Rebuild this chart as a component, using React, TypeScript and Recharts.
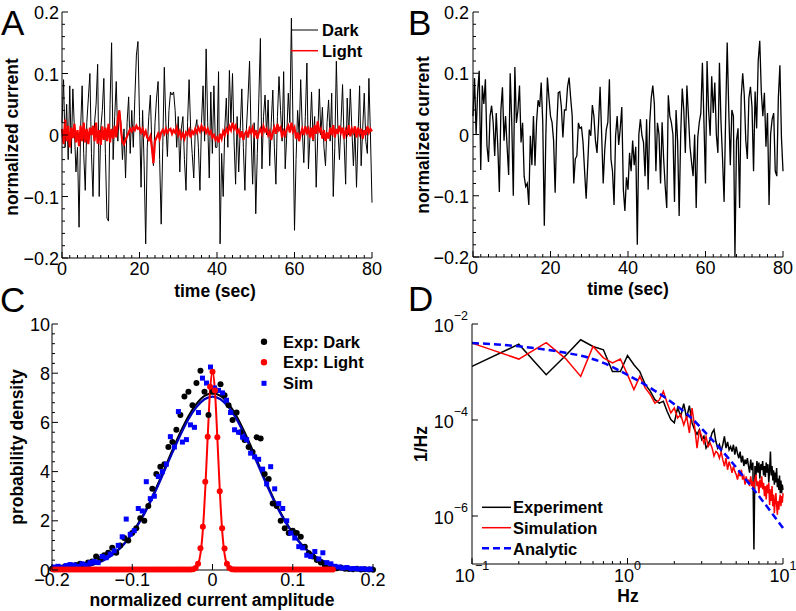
import React from 'react';
import { LineChart, Line, XAxis, YAxis, ComposedChart, Scatter, Legend } from 'recharts';

const FONT = '"Liberation Sans", Arial, Helvetica, sans-serif';
const RED = '#ff0000';
const BLUE = '#0000ff';
const FIT_BLUE = '#0000c0';

// ---------- Panels A / B : time traces ----------
const DT = 0.4; // seconds between samples
const DARK_A = [
  0.02, 0.09, -0.02, 0.05, -0.04, 0.08, -0.03, 0.075, 0.01, -0.06,
  -0.02, -0.15, 0.01, 0.08, -0.03, -0.09, 0.02, 0.06, 0.1, -0.03,
  -0.1, 0.02, 0.05, 0.115, -0.1, 0.01, 0.04, 0.092, -0.03, -0.135,
  -0.14, 0.05, 0.15, -0.04, 0.03, 0.087, -0.01, 0.04, 0.02, -0.04,
  0.01, -0.07, 0.02, 0.062, -0.03, 0.04, -0.02, 0.06, 0.13, 0.152,
  0.03, -0.085, 0.04, -0.05, -0.177, -0.02, 0.03, 0.065, -0.02, -0.05,
  0.02, 0.06, 0.087, -0.04, -0.145, -0.02, 0.11, 0.02, -0.035, 0.04,
  0.07, 0.065, 0.07, 0.04, -0.02, 0.03, -0.06, 0.01, 0.03, -0.04,
  -0.09, 0.02, 0.09, 0.01, -0.03, -0.07, 0.01, 0.025, -0.02, -0.09,
  0.02, 0.08, -0.01, 0.14, 0.02, -0.07, 0.07, -0.03, 0.08, -0.02,
  -0.02, 0.103, -0.177, -0.03, -0.1, 0.01, 0.06, -0.02, 0.105, 0.02,
  0.1, -0.01, -0.08, 0.03, -0.06, 0.01, 0.075, -0.02, -0.09, 0.01,
  0.06, 0.12, 0.0, -0.08, 0.02, -0.128, -0.03, 0.06, 0.157, -0.055,
  0.03, 0.065, 0.0, 0.057, -0.05, 0.02, 0.073, -0.02, -0.08, 0.03,
  0.095, 0.04, -0.01, 0.103, -0.055, 0.0, 0.068, 0.02, 0.19, 0.02,
  -0.155, -0.04, 0.04, 0.0, 0.09, 0.01, -0.045, 0.03, 0.117, -0.055,
  0.0, 0.07, -0.01, 0.03, -0.085, 0.0, 0.075, 0.0, 0.045, -0.02,
  -0.05, 0.02, 0.057, -0.01, 0.068, -0.1, -0.02, 0.12, 0.01, -0.04,
  0.02, 0.082, -0.01, -0.08, 0.06, 0.0, 0.075, 0.01, -0.05, 0.01,
  -0.085, 0.0, 0.08, -0.05, 0.01, 0.068, -0.01, -0.03, 0.092, 0.0,
  -0.11,
];
const LIGHT_A = [
  0.01, -0.015, 0.025, -0.01, 0.015, -0.02, 0.012, -0.005, 0.018, -0.012,
  0.008, -0.018, 0.015, -0.01, 0.02, -0.012, 0.01, -0.015, 0.012, 0.0,
  0.015, -0.01, 0.02, -0.014, 0.008, -0.016, 0.014, -0.008, 0.012, -0.01,
  0.018, -0.012, 0.01, -0.006, 0.015, -0.004, 0.025, 0.04, 0.01, -0.012,
  -0.015, -0.008, -0.002, 0.004, 0.01, 0.006, 0.012, 0.008, 0.015, 0.01,
  0.012, 0.004, 0.01, 0.0, 0.006, -0.004, -0.008, -0.002, -0.02, -0.046,
  -0.01, -0.004, 0.002, -0.006, 0.004, 0.008, 0.002, 0.01, 0.004, 0.008,
  0.01, 0.002, 0.008, 0.004, 0.012, 0.0, 0.006, -0.004, 0.002, -0.006,
  0.004, 0.0, 0.008, -0.004, 0.006, 0.002, 0.01, 0.004, 0.012, 0.006,
  0.015, 0.008, 0.012, 0.004, 0.01, 0.002, 0.006, -0.004, 0.0, -0.008,
  -0.004, -0.012, 0.002, -0.006, 0.006, 0.0, 0.01, 0.004, 0.014, 0.008,
  0.02, 0.01, 0.015, 0.004, 0.008, -0.004, 0.006, -0.008, 0.002, 0.006,
  -0.004, 0.01, 0.004, 0.012, 0.0, 0.008, -0.006, 0.004, 0.01, 0.002,
  0.014, 0.006, 0.01, 0.0, 0.006, -0.008, 0.004, 0.012, 0.002, 0.018,
  0.008, 0.012, -0.004, 0.006, 0.0, 0.01, 0.015, 0.004, 0.02, 0.006,
  0.012, -0.006, 0.004, -0.01, 0.002, 0.01, 0.0, 0.014, 0.004, 0.01,
  -0.004, 0.012, -0.008, 0.016, 0.002, 0.022, 0.006, 0.01, -0.006, 0.008,
  -0.01, 0.004, -0.006, 0.012, 0.0, 0.016, -0.004, 0.01, 0.002, 0.015,
  0.004, 0.012, -0.006, 0.008, 0.002, 0.016, -0.002, 0.01, 0.004, 0.014,
  -0.004, 0.012, 0.002, 0.01, -0.006, 0.008, 0.0, 0.014, 0.004, 0.01,
  0.006,
];
const TRACE_B = [
  0.03, 0.092, 0.0, 0.07, 0.104, -0.058, 0.08, 0.05, 0.09, -0.018,
  -0.045, 0.03, 0.047, 0.02, -0.035, 0.035, -0.02, -0.094, 0.04, 0.077,
  -0.01, 0.03, -0.02, -0.066, 0.1, 0.02, -0.1, 0.11, 0.019, 0.04,
  0.08, -0.013, 0.019, -0.068, -0.085, -0.08, -0.115, -0.002, -0.05, 0.03,
  -0.051, 0.02, 0.056, 0.045, 0.085, 0.02, -0.149, -0.002, 0.093, 0.06,
  0.03, 0.02, -0.01, -0.095, 0.01, 0.068, 0.07, 0.045, -0.005, 0.04,
  0.04, 0.078, 0.093, 0.06, 0.03, -0.08, -0.04, -0.035, 0.019, 0.01,
  0.012, -0.013, -0.06, -0.105, -0.05, 0.008, -0.002, 0.048, 0.03, -0.01,
  -0.03, 0.018, 0.078, 0.0, -0.08, -0.025, 0.008, 0.02, 0.09, -0.04,
  -0.06, -0.115, -0.002, 0.03, -0.017, 0.01, 0.045, -0.09, -0.125, -0.07,
  -0.09, -0.03, -0.06, -0.01, -0.05, -0.02, -0.18, 0.0, 0.025, -0.002,
  -0.013, -0.068, 0.025, -0.09, 0.019, 0.06, 0.08, 0.05, -0.06, 0.019,
  0.0, -0.08, 0.02, -0.04, -0.085, -0.12, 0.064, 0.03, 0.019, 0.0,
  -0.11, 0.04, -0.01, -0.133, 0.0, 0.075, 0.04, -0.03, 0.08, 0.03,
  -0.02, -0.045, -0.068, 0.0, -0.12, -0.005, 0.02, 0.035, 0.117, 0.02,
  -0.08, 0.12, 0.04, -0.002, 0.095, 0.035, 0.085, 0.0, -0.03, 0.117,
  0.02, -0.04, -0.11, 0.03, 0.15, 0.04, -0.05, 0.04, 0.03, -0.2,
  -0.01, 0.01, -0.12, 0.06, 0.1, 0.065, -0.01, -0.04, 0.06, 0.078,
  0.045, -0.06, 0.07, 0.01, 0.12, 0.153, 0.07, 0.03, 0.068, -0.02,
  0.035, -0.115, 0.0, 0.025, 0.035, -0.06, -0.068, 0.06, 0.113, -0.005,
  -0.06,
];
const TIME_MAJOR = [0, 20, 40, 60, 80];
const CURRENT_MAJOR = [-0.2, -0.1, 0, 0.1, 0.2];

// ---------- Panel C : amplitude histograms ----------
const BIN_WIDTH = 0.005;
const DARK_HIST_START = -0.2;
const DARK_HIST = [
  0.05, 0.08, 0.1, 0.12, 0.1, 0.15, 0.2, 0.25, 0.2, 0.3,
  0.35, 0.55, 0.45, 0.6, 0.7, 0.9, 0.7, 1.0, 1.3, 1.2,
  1.5, 1.7, 2.1, 2.0, 2.6, 3.3, 3.9, 4.2, 4.3, 5.0,
  5.2, 5.7, 6.3, 7.05, 7.25, 6.7, 7.6, 8.1, 7.25, 6.3,
  7.25,
  7.3, 7.55, 7.1, 6.7, 6.1, 6.4, 5.6, 5.28, 5.0, 4.8,
  5.4, 5.35, 3.9, 3.7, 2.7, 2.6, 2.0, 1.7, 1.5, 1.6,
  1.5, 1.35, 0.95, 0.68, 0.55, 0.41, 0.3, 0.2, 0.07, 0.12,
  0.07, 0.1, 0.05, 0.04, 0.03, 0.05, 0.02, 0.03, 0.02, 0.01,
];
const SIM_HIST_START = -0.1975;
const SIM_HIST = [
  0.12, 0.15, 0.1, 0.18, 0.22, 0.2, 0.15, 0.25, 0.2, 0.3,
  0.35, 0.3, 0.55, 0.5, 0.65, 0.78, 1.0, 1.35, 2.07, 1.45,
  1.6, 2.5, 2.4, 3.59, 2.9, 3.0, 3.8, 4.0, 4.3, 5.42,
  5.0, 6.44, 5.2, 5.3, 5.9, 5.8, 6.4, 7.8, 7.6, 8.25,
  7.4, 7.3, 7.2, 6.9, 6.4, 5.7, 5.6, 5.4, 5.3, 4.75,
  4.6, 4.5, 4.1, 3.5, 4.2, 3.3, 2.7, 2.5, 2.0, 1.5,
  1.3, 0.95, 0.9, 0.6, 0.55, 0.75, 0.45, 0.7, 0.3, 0.25,
  0.15, 0.12, 0.08, 0.1, 0.05, 0.06, 0.04, 0.05, 0.03, 0.04,
];
const LIGHT_HIST_X = [
  -0.198, -0.195, -0.192, -0.189, -0.186, -0.183, -0.18, -0.177, -0.174, -0.171,
  -0.168, -0.165, -0.162, -0.159, -0.156, -0.153, -0.15, -0.147, -0.144, -0.141,
  -0.138, -0.135, -0.132, -0.129, -0.126, -0.123, -0.12, -0.117, -0.114, -0.111,
  -0.108, -0.105, -0.102, -0.099, -0.096, -0.093, -0.09, -0.087, -0.084, -0.081,
  -0.078, -0.075, -0.072, -0.069, -0.066, -0.063, -0.06, -0.057, -0.054, -0.051,
  -0.048, -0.045, -0.042, -0.039, -0.036, -0.033, -0.03, -0.027,
  -0.024, -0.021, -0.018, -0.015, -0.012, -0.009, -0.006, -0.003, 0,
  0.003, 0.006, 0.009, 0.012, 0.015, 0.018, 0.021, 0.024,
  0.027, 0.03, 0.033, 0.036, 0.039, 0.042, 0.045, 0.048, 0.051, 0.054,
  0.057, 0.06, 0.063, 0.066, 0.069, 0.072, 0.075, 0.078, 0.081, 0.084,
  0.087, 0.09, 0.093, 0.096, 0.099, 0.102, 0.105, 0.108, 0.111, 0.114,
  0.117, 0.12, 0.123, 0.126, 0.129, 0.132, 0.135, 0.138, 0.141, 0.144, 0.147, 0.15,
];
const LIGHT_HIST_Y = [
  0.02, 0.02, 0.02, 0.02, 0.02, 0.02, 0.02, 0.02, 0.02, 0.02,
  0.02, 0.02, 0.02, 0.02, 0.02, 0.02, 0.02, 0.02, 0.02, 0.02,
  0.02, 0.02, 0.02, 0.02, 0.02, 0.02, 0.02, 0.02, 0.02, 0.02,
  0.02, 0.02, 0.02, 0.02, 0.02, 0.02, 0.02, 0.02, 0.02, 0.02,
  0.02, 0.02, 0.02, 0.02, 0.02, 0.02, 0.02, 0.02, 0.02, 0.02,
  0.02, 0.02, 0.02, 0.02, 0.02, 0.02, 0.02, 0.02,
  0.03, 0.08, 0.25, 0.88, 1.76, 3.59, 5.42, 7.45, 8.06,
  7.3, 5.4, 3.2, 1.7, 0.87, 0.25, 0.08, 0.03,
  0.02, 0.02, 0.02, 0.02, 0.02, 0.02, 0.02, 0.02, 0.02, 0.02,
  0.02, 0.02, 0.02, 0.02, 0.02, 0.02, 0.02, 0.02, 0.02, 0.02,
  0.02, 0.02, 0.02, 0.02, 0.02, 0.02, 0.02, 0.02, 0.02, 0.02,
  0.02, 0.02, 0.02, 0.02, 0.02, 0.02, 0.02, 0.02, 0.02, 0.02, 0.02, 0.02,
];
const FIT_START = -0.2;
const FIT_STEP = 0.01;
const DARK_FIT = [
  0.014, 0.026, 0.046, 0.079, 0.13, 0.21, 0.34, 0.51, 0.75, 1.08,
  1.51, 2.03, 2.64, 3.35, 4.1, 4.87, 5.6, 6.25, 6.75, 7.08,
  7.19,
  7.08, 6.75, 6.25, 5.6, 4.87, 4.1, 3.35, 2.64, 2.03, 1.51,
  1.08, 0.75, 0.51, 0.34, 0.21, 0.13, 0.079, 0.046, 0.026, 0.014,
];
const SIM_FIT = [
  0.014, 0.025, 0.045, 0.077, 0.13, 0.21, 0.33, 0.5, 0.74, 1.06,
  1.48, 1.99, 2.59, 3.28, 4.02, 4.77, 5.49, 6.13, 6.62, 6.94,
  7.05,
  6.94, 6.62, 6.13, 5.49, 4.77, 4.02, 3.28, 2.59, 1.99, 1.48,
  1.06, 0.74, 0.5, 0.33, 0.21, 0.13, 0.077, 0.045, 0.025, 0.014,
];
const LIGHT_FIT_X = [-0.2, -0.03, -0.024, -0.021, -0.018, -0.015, -0.012, -0.009, -0.006, -0.003, 0, 0.003, 0.006, 0.009, 0.012, 0.015, 0.018, 0.021, 0.024, 0.03, 0.155];
const LIGHT_FIT_Y = [0, 0, 0.013, 0.06, 0.22, 0.66, 1.63, 3.3, 5.4, 7.3, 8.06, 7.3, 5.4, 3.3, 1.63, 0.66, 0.22, 0.06, 0.013, 0, 0];
const AMP_MAJOR = [-0.2, -0.1, 0, 0.1, 0.2];
const DENSITY_MAJOR = [0, 2, 4, 6, 8, 10];

// ---------- Panel D : power spectra ----------
const FREQ_STEP = 0.1;
const EXP_PSD = [
  1.31e-3, 3.8e-3, 8.8e-4, 2.2e-3, 4.7e-3, 3.4e-3, 2.9e-3, 1.02e-3, 1.02e-3, 2.2e-3,
  1.42e-3, 1.02e-3, 5.5e-4, 4.0e-4, 2.65e-4, 2.25e-4, 2.45e-4, 1.5e-4, 1.02e-4, 8.7e-5,
  1.8e-4, 1.2e-4, 2.2e-4, 1.1e-4, 2.0e-4, 8.7e-5, 6.3e-5, 5e-5, 6.3e-5, 3.9e-5,
  4.6e-5, 2.6e-5, 3.1e-5, 3.9e-5, 5.4e-5, 6.3e-5, 3.6e-5, 2.6e-5, 3.1e-5, 2.25e-5,
  3.05e-5, 4.55e-5, 2.6e-5, 3.5e-5, 2.4e-5, 2.8e-5, 2.2e-5, 3.05e-5, 1.9e-5, 2.8e-5,
  2.0e-5, 1.6e-5, 2.2e-5, 1.3e-5, 1.8e-5, 1.1e-5, 1.5e-5, 1.2e-5, 1.6e-5, 1.1e-5,
  8e-6, 1.5e-5, 9e-6, 1.3e-5, 2e-7, 1.1e-5, 7e-6, 1.4e-5, 8e-6, 1.3e-5,
  6e-6, 1.2e-5, 9e-6, 1.4e-5, 7e-6, 1.1e-5, 6.5e-6, 1.3e-5, 8e-6, 1.2e-5,
  5e-6, 9e-6, 2.2e-5, 7e-6, 1.1e-5, 5.5e-6, 9e-6, 4.5e-6, 8e-6, 5e-6,
  1e-5, 4e-6, 6e-6, 3.5e-6, 7e-6, 3e-6, 5.5e-6, 3e-6, 4.5e-6, 3.5e-6,
];
const SIM_PSD = [
  4.0e-3, 1.86e-3, 4.1e-3, 1.9e-3, 8.1e-4, 3.4e-3, 1.97e-3, 1.55e-3, 1.86e-3, 8.8e-4,
  4.3e-4, 8.1e-4, 4.65e-4, 3.4e-4, 2.25e-4, 2.6e-4, 3.95e-4, 2.25e-4, 1.4e-4, 1.78e-4,
  1.1e-4, 1.3e-4, 7.9e-5, 1.2e-4, 5.4e-5, 1.78e-4, 7.4e-5, 2.6e-5, 6.3e-5, 4.55e-5,
  3.3e-5, 4.55e-5, 2.8e-5, 3.3e-5, 2.6e-5, 1.77e-5, 2.2e-5, 2.05e-5, 1.6e-5, 2.2e-5,
  1.49e-5, 1.08e-5, 1.6e-5, 9.2e-6, 1.35e-5, 1.08e-5, 7.9e-6, 1.08e-5, 8.5e-6, 7.3e-6,
  5.75e-6, 8.5e-6, 6.7e-6, 9.2e-6, 5.75e-6, 6.7e-6, 4.5e-6, 6.7e-6, 4.9e-6, 5.75e-6,
  4.2e-6, 6.7e-6, 4.2e-6, 5.3e-6, 3.6e-6, 5.75e-6, 7.3e-6, 4.2e-6, 5.3e-6, 3.0e-6,
  5.75e-6, 3.9e-6, 6.7e-6, 3.6e-6, 4.9e-6, 2.6e-6, 4.2e-6, 2.2e-6, 4.5e-6, 3.0e-6,
  4.9e-6, 1.7e-6, 3.6e-6, 2.05e-6, 4.2e-6, 1.6e-6, 2.8e-6, 1.15e-6, 2.05e-6, 3.0e-6,
  1.7e-6, 1.07e-6, 2.05e-6, 1.35e-6, 2.2e-6, 2.8e-6, 1.6e-6, 2.6e-6, 1.9e-6, 3.0e-6,
];
const ANALYTIC_F = [0.1, 0.2, 0.3, 0.4, 0.5, 0.7, 1, 1.4, 2, 2.5, 3.4, 4.5, 6, 8, 10];
const ANALYTIC_PSD = [4.02e-3, 3.43e-3, 2.92e-3, 2.51e-3, 2.19e-3, 1.55e-3, 8.7e-4, 4.68e-4, 2.14e-4, 1.2e-4, 4.27e-5, 1.55e-5, 4.9e-6, 1.48e-6, 5.6e-7];
const FREQ_MAJOR = [0.1, 1, 10];
const FREQ_MINOR = [0.2, 0.3, 0.4, 0.5, 0.6, 0.7, 0.8, 0.9, 2, 3, 4, 5, 6, 7, 8, 9];
const PSD_MAJOR = [1e-6, 1e-4, 1e-2];

// ---------- derived tables ----------
const r4 = (v: number) => Math.round(v * 10000) / 10000;
const rowsA = DARK_A.map((d, i) => ({ t: r4(i * DT), dark: d, light: LIGHT_A[i] }));
const rowsB = TRACE_B.map((d, i) => ({ t: r4(i * DT), v: d }));
const darkHist = DARK_HIST.map((y, i) => ({ x: r4(DARK_HIST_START + i * BIN_WIDTH), y }));
const simHist = SIM_HIST.map((y, i) => ({ x: r4(SIM_HIST_START + i * BIN_WIDTH), y }));
const lightHist = LIGHT_HIST_X.map((x, i) => ({ x, y: LIGHT_HIST_Y[i] }));
const darkFit = DARK_FIT.map((y, i) => ({ x: r4(FIT_START + i * FIT_STEP), y }));
const simFit = SIM_FIT.map((y, i) => ({ x: r4(FIT_START + i * FIT_STEP), y }));
const lightFit = LIGHT_FIT_X.map((x, i) => ({ x, y: LIGHT_FIT_Y[i] }));
const rowsD = EXP_PSD.map((e, i) => ({ f: r4((i + 1) * FREQ_STEP), exp: e, sim: SIM_PSD[i] }));
const analytic = ANALYTIC_F.map((f, i) => ({ f, v: ANALYTIC_PSD[i] }));

const range = (a: number, b: number, s: number) => {
  const out: number[] = [];
  const n = Math.round((b - a) / s);
  for (let i = 0; i <= n; i++) out.push(r4(a + i * s));
  return out;
};
const TIME_TICKS = range(0, 80, 2);
const CURRENT_TICKS = range(-0.2, 0.2, 0.02);
const DENSITY_TICKS = range(0, 10, 0.4);
const FREQ_TICKS = [...FREQ_MAJOR, ...FREQ_MINOR].sort((a, b) => a - b);

const near = (a: number, b: number) => Math.abs(a - b) <= 1e-6 * Math.max(Math.abs(a), Math.abs(b));
const isMajor = (v: number, majors: number[]) => majors.some((m) => near(m, v));

const MINUS = '\u2212';
const fmtSigned = (v: number) => (v === 0 ? '0' : (v < 0 ? MINUS : '') + String(r4(Math.abs(v))));
const fmtInt = (v: number) => String(Math.round(v));
const fmtPow = (v: number) => {
  const e = Math.round(Math.log10(v));
  return (
    <>
      <tspan>10</tspan>
      <tspan dy={-12} fontSize={12.5}>{e < 0 ? MINUS + String(-e) : String(e)}</tspan>
    </>
  );
};

type TickOpts = { majors: number[]; fmt: (v: number) => React.ReactNode; dy: number; dx?: number };

const bottomTick = (o: TickOpts) => (props: any) => {
  const { x, y, payload } = props;
  const v = payload.value;
  const major = isMajor(v, o.majors);
  return (
    <g>
      <line x1={x} x2={x} y1={y} y2={y - (major ? 6 : 3)} stroke="#000" strokeWidth={1} />
      {major && (
        <text x={x} y={y + o.dy} textAnchor="middle" fontFamily={FONT} fontSize={18} fill="#000">
          {o.fmt(v)}
        </text>
      )}
    </g>
  );
};

const leftTick = (o: TickOpts) => (props: any) => {
  const { x, y, payload } = props;
  const v = payload.value;
  const major = isMajor(v, o.majors);
  return (
    <g>
      <line x1={x} x2={x + (major ? 6 : 3)} y1={y} y2={y} stroke="#000" strokeWidth={1} />
      {major && (
        <text x={x - (o.dx ?? 3)} y={y + o.dy} textAnchor="end" fontFamily={FONT} fontSize={18} fill="#000">
          {o.fmt(v)}
        </text>
      )}
    </g>
  );
};

const axisCommon = { tickSize: 0, tickMargin: 0, tickLine: false, interval: 0 as const, axisLine: { stroke: '#000', strokeWidth: 1 } };

const legendText = { fontFamily: FONT, fontSize: 16.5, fontWeight: 700, fill: '#000' } as const;

const LegendA = () => (
  <svg width={100} height={46} style={{ display: 'block', overflow: 'visible' }}>
    <line x1={3} x2={30} y1={12} y2={12} stroke="#000" strokeWidth={1} />
    <text x={34} y={18} {...legendText}>Dark</text>
    <line x1={3} x2={30} y1={32.7} y2={32.7} stroke={RED} strokeWidth={1.5} />
    <text x={34} y={38.5} {...legendText}>Light</text>
  </svg>
);

const LegendC = () => (
  <svg width={140} height={66} style={{ display: 'block', overflow: 'visible' }}>
    <circle cx={9} cy={11.7} r={3.2} fill="#000" />
    <text x={28} y={17.5} {...legendText}>Exp: Dark</text>
    <circle cx={9} cy={32.3} r={3.2} fill={RED} />
    <text x={28} y={38} {...legendText}>Exp: Light</text>
    <rect x={6.5} y={50.8} width={5} height={5} fill={BLUE} />
    <text x={28} y={59} {...legendText}>Sim</text>
  </svg>
);

const LegendD = () => (
  <svg width={130} height={66} style={{ display: 'block', overflow: 'visible' }}>
    <line x1={2} x2={31} y1={12.3} y2={12.3} stroke="#000" strokeWidth={1.5} />
    <text x={33} y={18.3} {...legendText}>Experiment</text>
    <line x1={2} x2={31} y1={32.7} y2={32.7} stroke={RED} strokeWidth={1.5} />
    <text x={33} y={39} {...legendText}>Simulation</text>
    <line x1={2} x2={31} y1={53.3} y2={53.3} stroke={BLUE} strokeWidth={2.5} strokeDasharray="7 4" />
    <text x={33} y={59.5} {...legendText}>Analytic</text>
  </svg>
);

const dotShape = (color: string, r: number) => (p: any) => <circle cx={p.cx} cy={p.cy} r={r} fill={color} />;
const squareShape = (color: string, s: number) => (p: any) => (
  <rect x={p.cx - s / 2} y={p.cy - s / 2} width={s} height={s} fill={color} />
);

const PanelA = () => (
  <LineChart width={396} height={300} data={rowsA} margin={{ top: 12, right: 24, bottom: 0, left: 0 }}>
    <XAxis dataKey="t" type="number" domain={[0, 80]} ticks={TIME_TICKS} height={42} {...axisCommon}
      tick={bottomTick({ majors: TIME_MAJOR, fmt: fmtInt, dy: 17 })} />
    <YAxis type="number" domain={[-0.2, 0.2]} ticks={CURRENT_TICKS} width={62} {...axisCommon}
      tick={leftTick({ majors: CURRENT_MAJOR, fmt: fmtSigned, dy: 7 })} />
    <Line dataKey="dark" type="linear" stroke="#000" strokeWidth={1} dot={false} isAnimationActive={false} />
    <Line dataKey="light" type="linear" stroke={RED} strokeWidth={2.2} dot={false} isAnimationActive={false} />
    <Legend layout="vertical" align="center" verticalAlign="middle" content={LegendA}
      wrapperStyle={{ position: 'absolute', left: 288, top: 18, width: 100, height: 46 }} />
  </LineChart>
);

const PanelB = () => (
  <LineChart width={400} height={300} data={rowsB} margin={{ top: 12, right: 13, bottom: 0, left: 0 }}>
    <XAxis dataKey="t" type="number" domain={[0, 80]} ticks={TIME_TICKS} height={43} {...axisCommon}
      tick={bottomTick({ majors: TIME_MAJOR, fmt: fmtInt, dy: 17 })} />
    <YAxis type="number" domain={[-0.2, 0.2]} ticks={CURRENT_TICKS} width={77} {...axisCommon}
      tick={leftTick({ majors: CURRENT_MAJOR, fmt: fmtSigned, dy: 7, dx: 4 })} />
    <Line dataKey="v" type="linear" stroke="#000" strokeWidth={1.3} dot={false} isAnimationActive={false} />
  </LineChart>
);

const PanelC = () => (
  <ComposedChart width={396} height={311} margin={{ top: 24, right: 23, bottom: 0, left: 0 }}>
    <XAxis dataKey="x" type="number" domain={[-0.2, 0.2]} ticks={AMP_MAJOR} height={41} {...axisCommon}
      tick={bottomTick({ majors: AMP_MAJOR, fmt: fmtSigned, dy: 15.5 })} />
    <YAxis dataKey="y" type="number" domain={[0, 10]} ticks={DENSITY_TICKS} width={52} {...axisCommon}
      tick={leftTick({ majors: DENSITY_MAJOR, fmt: fmtInt, dy: 6.5, dx: 2 })} />
    <Scatter name="Exp: Dark" data={darkHist} dataKey="y" fill="#000" shape={dotShape('#000', 3)} isAnimationActive={false} />
    <Scatter name="Sim" data={simHist} dataKey="y" fill={BLUE} shape={squareShape(BLUE, 5)} isAnimationActive={false} />
    <Line data={darkFit} dataKey="y" type="monotone" stroke="#000" strokeWidth={2} dot={false} isAnimationActive={false} />
    <Line data={simFit} dataKey="y" type="monotone" stroke={FIT_BLUE} strokeWidth={2.2} dot={false} isAnimationActive={false} />
    <Scatter name="Exp: Light" data={lightHist} dataKey="y" fill={RED} shape={dotShape(RED, 3)} isAnimationActive={false} />
    <Line data={lightFit} dataKey="y" type="monotone" stroke={RED} strokeWidth={2} dot={false} isAnimationActive={false} />
    <Legend layout="vertical" align="center" verticalAlign="middle" content={LegendC}
      wrapperStyle={{ position: 'absolute', left: 255, top: 30, width: 140, height: 66 }} />
  </ComposedChart>
);

const PanelD = () => (
  <ComposedChart width={400} height={311} data={rowsD} margin={{ top: 24, right: 13, bottom: 0, left: 0 }}>
    <XAxis dataKey="f" type="number" scale="log" domain={[0.1, 10]} ticks={FREQ_TICKS} height={47} {...axisCommon}
      tick={bottomTick({ majors: FREQ_MAJOR, fmt: fmtPow, dy: 18 })} />
    <YAxis type="number" scale="log" domain={[1e-7, 1e-2]} ticks={PSD_MAJOR} width={76} {...axisCommon}
      tick={leftTick({ majors: PSD_MAJOR, fmt: fmtPow, dy: 7.5, dx: 4 })} />
    <Line dataKey="exp" type="linear" stroke="#000" strokeWidth={1.5} dot={false} isAnimationActive={false} />
    <Line dataKey="sim" type="linear" stroke={RED} strokeWidth={1.5} dot={false} isAnimationActive={false} />
    <Line data={analytic} dataKey="v" type="monotone" stroke={BLUE} strokeWidth={2.5} strokeDasharray="7 4" dot={false} isAnimationActive={false} />
    <Legend layout="vertical" align="center" verticalAlign="middle" content={LegendD}
      wrapperStyle={{ position: 'absolute', left: 84, top: 195, width: 130, height: 66 }} />
  </ComposedChart>
);

const titleStyle = { fontFamily: FONT, fontSize: 17.5, fontWeight: 700, fill: '#000' } as const;
const letterStyle = { fontFamily: FONT, fontSize: 35, fill: '#000' } as const;

export default function App() {
  return (
    <div style={{ position: 'absolute', left: 0, top: 0, width: 796, height: 611, background: '#fff' }}>
      <div style={{ position: 'absolute', left: 0, top: 0 }}><PanelA /></div>
      <div style={{ position: 'absolute', left: 396, top: 0 }}><PanelB /></div>
      <div style={{ position: 'absolute', left: 0, top: 300 }}><PanelC /></div>
      <div style={{ position: 'absolute', left: 396, top: 300 }}><PanelD /></div>
      <svg width={796} height={611} style={{ position: 'absolute', left: 0, top: 0, pointerEvents: 'none' }}>
        <text x={1} y={35} {...letterStyle}>A</text>
        <text x={408} y={35} {...letterStyle}>B</text>
        <text x={0} y={312} {...letterStyle}>C</text>
        <text x={408} y={311} {...letterStyle}>D</text>
        <text transform="translate(17.5,137) rotate(-90)" textAnchor="middle" {...titleStyle}>normalized current</text>
        <text x={215} y={296.5} textAnchor="middle" {...titleStyle}>time (sec)</text>
        <text transform="translate(429,135) rotate(-90)" textAnchor="middle" {...titleStyle}>normalized current</text>
        <text x={628} y={295} textAnchor="middle" {...titleStyle}>time (sec)</text>
        <text transform="translate(23,447) rotate(-90)" textAnchor="middle" {...titleStyle}>probability density</text>
        <text x={212} y={606} textAnchor="middle" {...titleStyle}>normalized current amplitude</text>
        <text transform="translate(427,444) rotate(-90)" textAnchor="middle" {...titleStyle}>1/Hz</text>
        <text x={628} y={602} textAnchor="middle" {...titleStyle}>Hz</text>
      </svg>
    </div>
  );
}
